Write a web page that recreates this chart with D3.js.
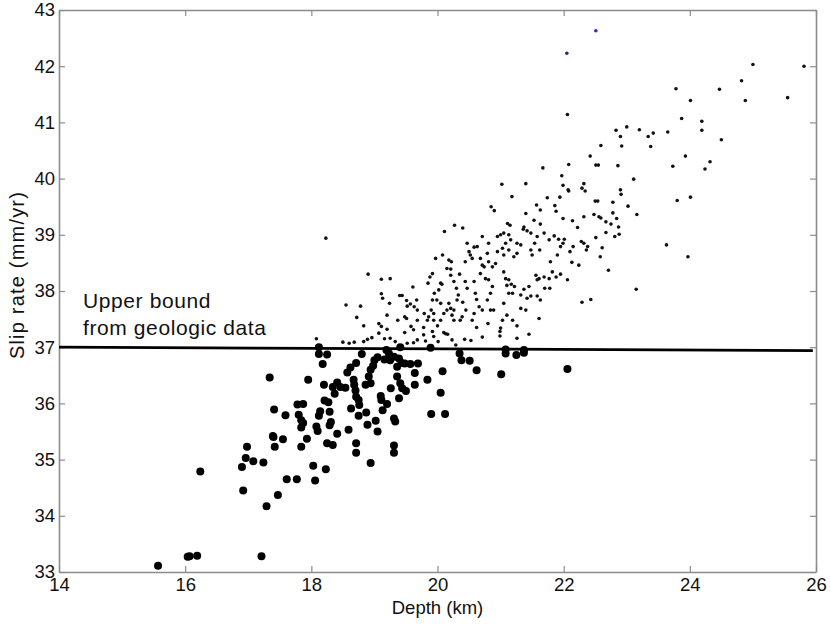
<!DOCTYPE html>
<html>
<head>
<meta charset="utf-8">
<title>Slip rate vs depth</title>
<script src="https://cdn.jsdelivr.net/npm/d3@7"></script>
<style>
  body { margin: 0; background: #fff; }
  svg { display: block; font-family: "Liberation Sans", Arial, sans-serif; }
</style>
</head>
<body>
<svg id="chart" width="831" height="632"></svg>
<script>
// Axis ticks
const xTicks = [14, 16, 18, 20, 22, 24, 26];
const yTicks = [33, 34, 35, 36, 37, 38, 39, 40, 41, 42, 43];

// Upper bound from geologic data (drawn as a nearly flat line)
const boundDepth = [14, 25.95];
const boundRate = [37.0, 36.94];

// Models above the bound: [depth km, slip rate mm/yr]
const modelsAbove = [
  [22.06,41.14],[25.00,42.03],[25.81,42.00],[24.82,41.74],[24.47,41.59],[23.78,41.60],[24.01,41.39],[24.88,41.39],
  [25.55,41.44],[23.87,41.07],[24.19,41.02],[24.19,40.86],[24.50,40.69],[23.65,40.83],[22.83,40.86],[23.00,40.92],
  [22.90,40.75],[23.20,40.87],[23.34,40.75],[23.42,40.81],[22.59,40.59],[22.92,40.58],[23.38,40.57],[23.93,40.40],
  [24.32,40.30],[24.24,40.17],[23.73,40.22],[22.42,40.40],[22.08,40.25],[22.51,40.24],[22.55,40.24],[22.86,40.23],
  [23.11,39.99],[21.97,40.05],[21.99,39.88],[22.07,39.80],[22.08,39.78],[21.94,39.67],[22.32,39.91],[22.29,39.83],
  [22.34,39.78],[22.50,39.60],[22.54,39.60],[22.78,39.58],[22.90,39.80],[22.91,39.72],[23.02,39.51],[23.80,39.61],
  [24.01,39.67],[21.86,39.52],[21.88,39.42],[21.99,39.29],[22.32,39.32],[22.48,39.36],[22.56,39.32],[22.59,39.30],
  [22.78,39.39],[22.84,39.29],[23.16,39.36],
  [21.67,40.19],[21.02,39.90],[21.40,39.91],[21.18,39.68],[21.74,39.66],[21.57,39.53],[21.63,39.44],[20.85,39.50],
  [20.90,39.43],[20.27,39.17],[20.40,39.12],[20.11,39.06],[21.11,39.20],[21.15,39.17],[21.40,39.38],[21.53,39.26],
  [21.63,39.19],[21.37,39.14],[21.36,39.10],[20.95,38.97],[21.00,39.00],[21.05,39.03],[20.71,38.97],[20.47,38.85],
  [20.81,38.85],[21.16,38.91],[21.13,39.00],[21.08,38.85],[21.03,38.76],[21.26,38.85],[21.32,38.82],[21.42,39.07],
  [21.48,39.03],[21.58,38.97],[21.54,38.85],[21.62,38.73],[21.48,38.73],[21.50,38.64],[21.69,39.03],[21.77,38.91],
  [20.63,38.79],[20.58,38.78],[20.50,38.70],[20.52,38.64],[20.55,38.58],[20.44,38.52],[20.68,38.58],[20.71,38.46],
  [20.79,38.67],[20.81,38.52],[20.95,38.70],[21.05,38.64],[21.13,38.73],[21.26,38.67],[21.21,38.61],[20.08,38.64],
  [19.97,38.58],[20.18,38.55],[20.22,38.52],[20.21,38.39],[20.15,38.40],[19.92,38.31],[19.88,38.25],[19.85,38.14],
  [20.05,38.14],[20.07,38.12],[20.21,38.28],[20.26,38.17],[20.44,38.17],[20.47,38.05],[20.58,38.17],[20.60,37.96],
  [20.68,38.31],[20.74,38.43],[20.87,38.43],[20.92,38.49],[20.76,38.22],[20.81,38.20],[20.87,38.08],[20.84,37.96],
  [21.05,38.34],[21.08,38.22],[21.13,38.20],[21.10,38.10],[21.17,38.12],[21.22,38.08],[21.13,37.96],[21.19,37.96],
  [21.32,37.93],[21.37,38.03],[21.45,38.08],[21.58,38.20],[21.56,38.28],[21.61,38.22],[21.69,38.25],[21.77,38.22],
  [21.70,38.05],[21.78,38.05],[21.58,37.91],[21.63,37.84],[21.42,37.87],[21.48,37.91],[21.32,37.69],[21.40,37.66],
  [21.61,37.51],[21.05,37.78],[21.10,37.57],[21.19,37.48],[21.26,37.38],[21.00,37.34],[21.03,37.48],[20.79,37.84],
  [20.84,37.66],[20.89,37.66],[20.71,37.66],[20.66,37.72],[20.58,37.60],[20.55,37.48],[20.36,37.48],[20.39,37.54],
  [20.26,37.66],[20.21,37.69],[20.15,37.66],[20.23,37.57],[20.10,37.60],[20.05,37.48],[19.94,37.60],[19.94,37.48],
  [19.84,37.48],[19.79,37.60],[20.31,37.84],[20.26,37.48],[20.13,37.24],
  [20.02,38.02],[19.99,37.84],[20.05,37.78],[19.95,37.96],[19.92,37.84],[19.90,37.66],[19.86,37.54],[20.18,37.78],
  [20.33,37.93],[20.40,37.80],[20.45,37.66],[20.62,37.85],[20.35,38.30],[20.30,38.05],[19.78,37.35],[20.00,37.38],
  [20.62,37.35],[20.80,37.42],
  [21.85,38.98],[21.92,38.92],[22.01,38.92],[21.95,38.79],[21.99,38.85],[21.90,38.64],[21.79,38.52],[21.82,38.34],
  [21.88,38.25],[21.95,38.30],[22.06,38.20],[22.10,38.70],[22.15,38.79],[22.13,38.51],[22.24,38.46],[22.14,39.25],
  [22.22,39.13],[22.28,38.88],[22.32,38.85],[22.38,38.79],[22.36,38.73],[22.51,38.95],[22.67,39.23],[22.75,39.19],
  [22.67,39.04],[22.81,38.97],[22.87,39.14],[22.88,39.01],[22.58,38.61],[22.61,38.77],[22.71,38.37],[22.29,37.80],
  [22.43,37.85],[23.15,38.03],[23.63,38.82],[23.97,38.61],
  [18.23,38.94],[18.90,38.30],[18.08,37.15],[18.55,37.75],[18.78,37.73],[18.72,37.53],[18.83,37.38],[18.50,37.09],
  [18.60,37.07],[18.68,37.09],[18.83,37.10],[18.89,37.14],[18.96,37.17],[19.11,38.21],[19.25,38.22],[19.11,37.95],
  [19.13,37.87],[19.24,37.78],[19.20,37.57],[19.07,37.42],[19.11,37.37],[19.20,37.32],[19.07,37.25],[19.16,37.15],
  [19.25,37.16],[19.33,37.10],[19.40,37.92],[19.44,37.92],[19.51,37.83],[19.57,37.77],[19.61,38.07],[19.67,37.84],
  [19.52,37.73],[19.63,37.72],[19.68,37.66],[19.37,37.48],[19.48,37.54],[19.51,37.51],[19.58,37.37],[19.62,37.31],
  [19.68,37.48],[19.48,37.26],[19.52,37.07],[19.62,37.08],[19.68,37.13],
  [19.78,37.22],[19.81,37.11],[19.92,37.28],[19.94,37.19],[20.01,37.10],[20.10,37.26],[20.16,37.23],[20.23,37.13],
  [20.29,37.04],[20.43,37.14],[20.53,37.12],[20.71,37.18],[20.99,37.28],[20.99,37.20],[21.45,37.23],[21.26,37.16]
];

// Two highlighted models at the top (blue in the original)
const modelsBlue = [[22.51,42.63],[22.05,42.23]];

// Models below the bound
const modelsBelow = [
  [15.57,33.11],[16.04,33.27],[16.07,33.28],[16.19,33.29],[16.24,34.79],[16.90,34.87],[16.92,34.45],[16.96,35.03],
  [16.98,35.23],[17.08,34.97],[17.24,34.95],[17.21,33.28],[17.29,34.17],[17.39,35.42],[17.40,35.40],[17.41,35.89],
  [17.42,35.23],[17.47,34.37],[17.34,36.46],[17.55,35.36],[17.59,35.79],[17.61,34.65],[17.77,34.65],[17.84,35.23],
  [17.78,35.98],[17.87,35.99],[17.80,35.80],[17.84,35.70],[17.87,35.65],[17.84,35.57],[17.93,35.37],[17.95,36.42],
  [18.03,34.89],[18.06,34.63],[18.23,34.83],[18.12,35.78],[18.14,35.86],[18.08,35.59],[18.10,35.51],[18.18,36.70],
  [18.12,36.88],[18.25,36.87],[18.20,36.33],[18.21,36.05],[18.27,36.02],[18.29,35.85],[18.31,35.67],[18.29,35.61],
  [18.25,35.29],[18.34,35.26],[18.41,35.46],[18.34,36.29],[18.37,36.17],[18.41,36.37],[18.46,36.29],[18.54,36.28],
  [18.59,35.53],[18.63,35.91],[18.57,36.55],[18.62,36.64],[18.67,36.42],[18.68,36.33],[18.70,36.23],[18.71,36.12],
  [18.75,36.06],[18.76,35.97],[18.71,36.72],[18.75,35.78],[18.71,35.29],[18.71,35.12],[18.80,36.88],[18.87,35.84],
  [18.89,35.62],[18.86,36.33],[18.94,36.36],[18.91,36.48],[18.94,36.60],[18.98,36.67],[19.00,36.77],[19.05,36.82],
  [18.94,34.94],[19.02,35.69],[19.05,35.50],[19.10,36.13],[19.11,36.06],[19.13,35.88],[19.20,35.99],[19.26,36.27],
  [19.31,35.73],[19.33,35.68],[19.31,35.25],[19.31,35.12],[19.16,36.78],[19.23,36.89],[19.25,36.77],[19.19,36.95],
  [19.36,36.48],[19.41,36.36],[19.44,36.27],[19.50,36.22],[19.39,36.09],[19.36,36.65],[19.43,36.72],[19.48,36.71],
  [19.57,36.70],[19.31,36.83],[19.39,36.80],[19.69,36.71],[19.64,36.54],[19.64,36.33],[19.84,36.42],[19.90,35.81],
  [20.12,35.81],[20.05,36.19],[20.08,36.57],[19.89,36.99],[20.35,36.89],[20.38,36.77],[20.51,36.76],[20.62,36.59],
  [22.06,36.61],[21.01,36.52],[21.08,36.96],[21.08,36.89],[21.25,36.86],[21.37,36.95],[21.37,36.90],[18.12,37.00],
  [19.41,37.00]
];

const width = 831, height = 632;
const margin = { top: 10, right: 15, bottom: 60, left: 59 };

const svg = d3.select('#chart');

const x = d3.scaleLinear().domain([14, 26]).range([margin.left, width - margin.right]);
const y = d3.scaleLinear().domain([33, 43]).range([height - margin.bottom, margin.top]);

const axisColor = '#8c8c8c';

// Draw the four axes with inward ticks
function styleAxis(g) {
  g.select('.domain').attr('stroke', axisColor).attr('stroke-width', 1.6);
  g.selectAll('.tick line').attr('stroke', axisColor).attr('stroke-width', 1.2);
  g.selectAll('.tick text').attr('fill', '#111').attr('font-size', 18.5);
}

svg.append('g')
  .attr('transform', `translate(0,${y(33)})`)
  .call(d3.axisBottom(x).tickValues(xTicks).tickFormat(d3.format('d'))
    .tickSizeInner(-6).tickSizeOuter(0).tickPadding(6))
  .call(styleAxis);

svg.append('g')
  .attr('transform', `translate(${x(14)},0)`)
  .call(d3.axisLeft(y).tickValues(yTicks).tickFormat(d3.format('d'))
    .tickSizeInner(-6).tickSizeOuter(0).tickPadding(4))
  .call(styleAxis);

svg.append('g')
  .attr('transform', `translate(0,${y(43)})`)
  .call(d3.axisTop(x).tickValues(xTicks).tickFormat('').tickSizeInner(-6).tickSizeOuter(0))
  .call(styleAxis);

svg.append('g')
  .attr('transform', `translate(${x(26)},0)`)
  .call(d3.axisRight(y).tickValues(yTicks).tickFormat('').tickSizeInner(-6).tickSizeOuter(0))
  .call(styleAxis);

// Small dots: models above the bound
svg.append('g')
  .selectAll('circle')
  .data(modelsAbove)
  .enter().append('circle')
  .attr('cx', d => x(d[0]))
  .attr('cy', d => y(d[1]))
  .attr('r', 1.8)
  .attr('fill', '#111');

svg.append('g')
  .selectAll('circle')
  .data(modelsBlue)
  .enter().append('circle')
  .attr('cx', d => x(d[0]))
  .attr('cy', d => y(d[1]))
  .attr('r', 1.8)
  .attr('fill', (d, i) => i === 0 ? '#2a2ad8' : '#2c2c6a');

// Big dots: models below the bound
svg.append('g')
  .selectAll('circle')
  .data(modelsBelow)
  .enter().append('circle')
  .attr('cx', d => x(d[0]))
  .attr('cy', d => y(d[1]))
  .attr('r', 4)
  .attr('fill', '#000');

// Geologic upper bound
const line = d3.line().x(d => x(d[0])).y(d => y(d[1]));
svg.append('path')
  .datum(boundDepth.map((d, i) => [d, boundRate[i]]))
  .attr('d', line)
  .attr('fill', 'none')
  .attr('stroke', '#000')
  .attr('stroke-width', 2.8);

// Annotation
const note = svg.append('text')
  .attr('x', 83)
  .attr('font-size', 21)
  .attr('letter-spacing', 0.6)
  .attr('fill', '#111');
note.append('tspan').attr('x', 83).attr('y', 308).text('Upper bound');
note.append('tspan').attr('x', 83).attr('y', 335).text('from geologic data');

// Axis labels
svg.append('text')
  .attr('x', (x(14) + x(26)) / 2)
  .attr('y', 614)
  .attr('text-anchor', 'middle')
  .attr('font-size', 18.5)
  .attr('fill', '#111')
  .text('Depth (km)');

svg.append('text')
  .attr('transform', 'translate(24,275) rotate(-90)')
  .attr('text-anchor', 'middle')
  .attr('font-size', 20)
  .attr('letter-spacing', 1.2)
  .attr('fill', '#111')
  .text('Slip rate (mm/yr)');
</script>
</body>
</html>
